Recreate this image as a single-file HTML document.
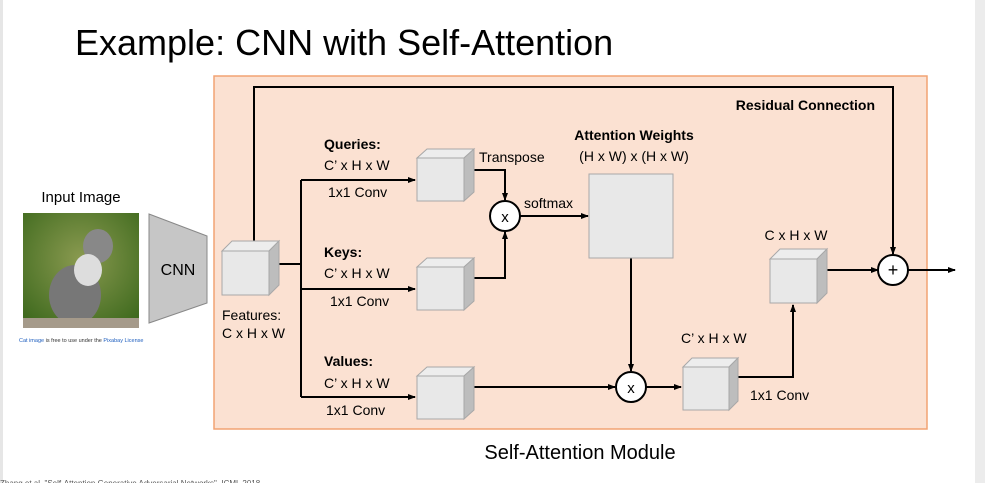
<!DOCTYPE html>
<html><head><meta charset="utf-8"><style>
body{margin:0;background:#fff;}
svg{display:block;font-family:"Liberation Sans",sans-serif;}
</style></head><body>
<svg width="985" height="483" viewBox="0 0 985 483">
<defs>
<marker id="a" markerWidth="8" markerHeight="8" refX="7" refY="4" orient="auto" markerUnits="userSpaceOnUse"><path d="M0,1 L8,4 L0,7 z" fill="#000"/></marker>
<radialGradient id="g" cx="0.5" cy="0.4" r="0.7"><stop offset="0" stop-color="#8a9a50"/><stop offset="1" stop-color="#3f6a1e"/></radialGradient>
</defs>
<rect x="975" y="0" width="10" height="483" fill="#ececec"/>
<rect x="0" y="0" width="3" height="483" fill="#e6e6e6"/>
<text x="75" y="55" font-size="36" fill="#000">Example: CNN with Self-Attention</text>
<rect x="214" y="76" width="713" height="353" fill="#fbe1d2" stroke="#f2a373" stroke-width="1.5"/>
<!-- input image -->
<text x="81" y="202" font-size="15" text-anchor="middle">Input Image</text>
<rect x="23" y="213" width="116" height="115" fill="url(#g)"/>
<ellipse cx="75" cy="295" rx="26" ry="30" fill="#777"/>
<ellipse cx="98" cy="246" rx="15" ry="17" fill="#888"/>
<ellipse cx="88" cy="270" rx="14" ry="16" fill="#ddd"/>
<rect x="23" y="318" width="116" height="10" fill="#a59a8a"/>
<text x="19" y="342" font-size="5.5" fill="#1f5fbf">Cat image <tspan fill="#333">is free to use under the</tspan> Pixabay License</text>
<polygon points="149,214 207,236 207,303 149,323" fill="#c6c6c6" stroke="#888" stroke-width="1"/>
<text x="178" y="275" font-size="16" text-anchor="middle">CNN</text>
<!-- lines -->
<g stroke="#000" stroke-width="2" fill="none">
<polyline points="254,242 254,87 893,87 893,254" marker-end="url(#a)"/>
<polyline points="278,264 301,264"/>
<line x1="301" y1="180" x2="301" y2="397"/>
<line x1="301" y1="180" x2="415" y2="180" marker-end="url(#a)"/>
<line x1="301" y1="289" x2="415" y2="289" marker-end="url(#a)"/>
<line x1="301" y1="397" x2="415" y2="397" marker-end="url(#a)"/>
<polyline points="473,170 505,170 505,200" marker-end="url(#a)"/>
<polyline points="473,278 505,278 505,232" marker-end="url(#a)"/>
<line x1="520" y1="216" x2="588" y2="216" marker-end="url(#a)"/>
<line x1="631" y1="258" x2="631" y2="371" marker-end="url(#a)"/>
<line x1="473" y1="387" x2="615" y2="387" marker-end="url(#a)"/>
<line x1="646" y1="387" x2="681" y2="387" marker-end="url(#a)"/>
<polyline points="738,377 793,377 793,305" marker-end="url(#a)"/>
<line x1="827" y1="270" x2="878" y2="270" marker-end="url(#a)"/>
<line x1="907" y1="270" x2="955" y2="270" marker-end="url(#a)"/>
</g>
<!-- cubes -->
<g stroke="#a8a8a8" stroke-width="1">
<g transform="translate(222,251)"><rect width="47" height="44" fill="#e8e8e8"/><polygon points="0,0 10,-10 57,-10 47,0" fill="#ededed"/><polygon points="47,0 57,-10 57,34 47,44" fill="#bdbdbd"/></g>
<g transform="translate(417,158)"><rect width="47" height="43" fill="#e8e8e8"/><polygon points="0,0 10,-9 57,-9 47,0" fill="#ededed"/><polygon points="47,0 57,-9 57,34 47,43" fill="#bdbdbd"/></g>
<g transform="translate(417,267)"><rect width="47" height="43" fill="#e8e8e8"/><polygon points="0,0 10,-9 57,-9 47,0" fill="#ededed"/><polygon points="47,0 57,-9 57,34 47,43" fill="#bdbdbd"/></g>
<g transform="translate(417,376)"><rect width="47" height="43" fill="#e8e8e8"/><polygon points="0,0 10,-9 57,-9 47,0" fill="#ededed"/><polygon points="47,0 57,-9 57,34 47,43" fill="#bdbdbd"/></g>
<g transform="translate(683,367)"><rect width="46" height="43" fill="#e8e8e8"/><polygon points="0,0 9,-9 55,-9 46,0" fill="#ededed"/><polygon points="46,0 55,-9 55,34 46,43" fill="#bdbdbd"/></g>
<g transform="translate(770,259)"><rect width="47" height="44" fill="#e8e8e8"/><polygon points="0,0 10,-10 57,-10 47,0" fill="#ededed"/><polygon points="47,0 57,-10 57,34 47,44" fill="#bdbdbd"/></g>
<rect x="589" y="174" width="84" height="84" fill="#e8e8e8"/>
</g>
<!-- circles -->
<g stroke="#000" stroke-width="2" fill="#fff">
<circle cx="505" cy="216" r="15"/><circle cx="631" cy="387" r="15"/><circle cx="893" cy="270" r="15"/>
</g>
<g font-size="15" text-anchor="middle">
<text x="505" y="222">x</text><text x="631" y="393">x</text><text x="893" y="276" font-size="18">+</text>
</g>
<!-- labels -->
<g font-size="14" fill="#000">
<text x="222" y="320">Features:</text><text x="222" y="338">C x H x W</text>
<text x="324" y="149" font-weight="bold">Queries:</text><text x="324" y="170">C’ x H x W</text><text x="328" y="197">1x1 Conv</text>
<text x="324" y="257" font-weight="bold">Keys:</text><text x="324" y="278">C’ x H x W</text><text x="330" y="306">1x1 Conv</text>
<text x="324" y="366" font-weight="bold">Values:</text><text x="324" y="388">C’ x H x W</text><text x="326" y="415">1x1 Conv</text>
<text x="479" y="162">Transpose</text>
<text x="524" y="208">softmax</text>
<text x="634" y="140" font-weight="bold" text-anchor="middle">Attention Weights</text>
<text x="634" y="161" text-anchor="middle">(H x W) x (H x W)</text>
<text x="681" y="343">C’ x H x W</text>
<text x="750" y="400">1x1 Conv</text>
<text x="796" y="240" text-anchor="middle">C x H x W</text>
<text x="875" y="110" font-weight="bold" text-anchor="end">Residual Connection</text>
</g>
<text x="580" y="459" font-size="20" text-anchor="middle">Self-Attention Module</text>
<text x="0" y="486" font-size="8" fill="#555">Zhang et al, "Self-Attention Generative Adversarial Networks", ICML 2018</text>
</svg>
</body></html>
